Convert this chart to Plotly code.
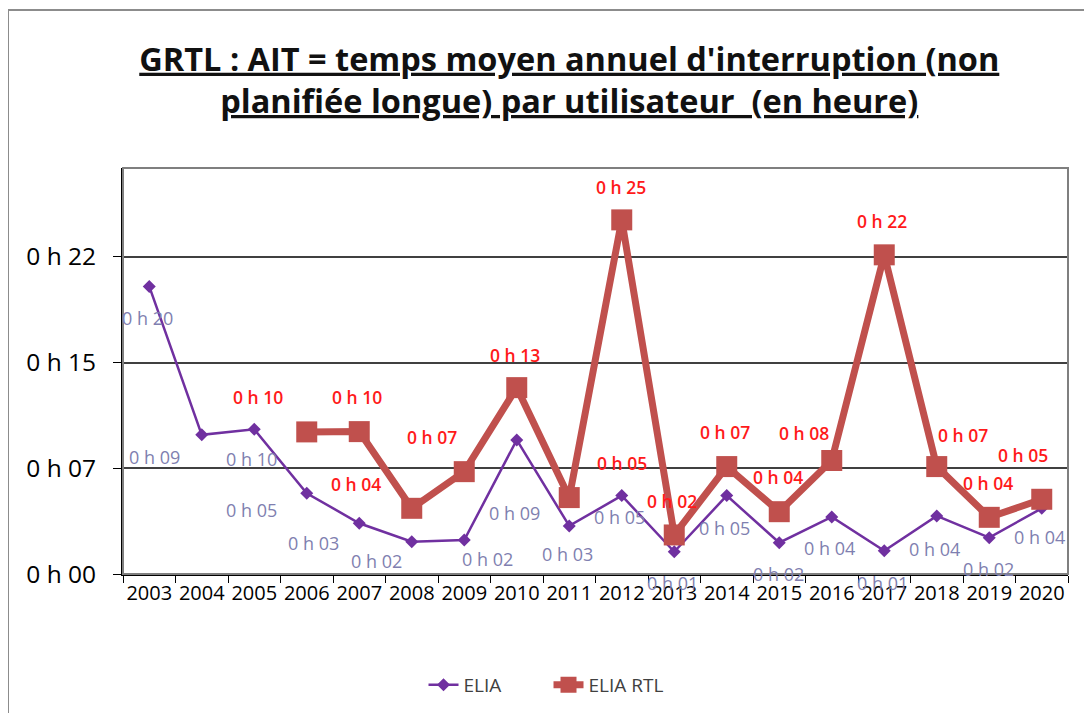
import plotly.graph_objects as go

# annees et temps (en minutes)
years = [str(y) for y in range(2003, 2021)]
elia = [20.4, 9.87, 10.27, 5.73, 3.6, 2.29, 2.41, 9.51, 3.41, 5.56,
        1.58, 5.56, 2.22, 4.05, 1.65, 4.12, 2.58, 4.66]
elia_rtl = [None, None, None, 10.08, 10.1, 4.66, 7.26, 13.22, 5.42, 25.12,
            2.77, 7.62, 4.42, 8.05, 22.64, 7.62, 4.02, 5.3]
ytick_vals = [0, 7.5, 15, 22.5]
ytick_text = ["0 h 00", "0 h 07", "0 h 15", "0 h 22"]

# decalage des etiquettes (px)
elia_off = [(-2, 32), (-47, 22), (-3, 30), (-55, 17), (-46, 20), (-35, 19),
            (23, 19), (-2, 73), (-2, 28), (-2, 21), (-2, 31), (-2, 32),
            (-1, 31), (-2, 31), (-2, 32), (-2, 33), (-1, 31), (-2, 29)]
rtl_off = [None, None, None, (-49, -35), (-2, -35), (-56, -24), (-32, -35),
           (-2, -33), (53, -35), (-1, -33), (-2, -34), (-2, -35), (-1, -35),
           (-28, -28), (-2, -34), (26, -32), (-1, -34), (-19, -44)]


def fmt(m):
    return "0 h %02d" % int(m)


FONT = "Open Sans"
fig = go.Figure()
fig.add_trace(go.Scatter(x=years, y=elia, name="ELIA", mode="lines+markers",
                         line=dict(color="#7030a0", width=2.5),
                         marker=dict(symbol="diamond", size=10, color="#7030a0")))
fig.add_trace(go.Scatter(x=years, y=elia_rtl, name="ELIA RTL", mode="lines+markers",
                         line=dict(color="#c0504d", width=7),
                         marker=dict(symbol="square", size=21, color="#c0504d")))

# etiquettes : x = index de categorie
for i in range(len(years)):
    dx, dy = elia_off[i]
    fig.add_annotation(x=i, y=elia[i], text=fmt(elia[i]), showarrow=False,
                       xshift=dx, yshift=-dy,
                       font=dict(family=FONT, size=18, color="#7f7fb0"))
    if elia_rtl[i] is not None:
        dx, dy = rtl_off[i]
        fig.add_annotation(x=i, y=elia_rtl[i], text=fmt(elia_rtl[i]), showarrow=False,
                           xshift=dx, yshift=-dy,
                           font=dict(family=FONT, size=17.5, color="#ff1a1a", weight=600))

# cadre exterieur + cadre du graphique
fig.add_shape(type="rect", xref="paper", yref="paper", x0=-0.1217, x1=1.05,
              y0=-0.4, y1=1.389, line=dict(color="#8c8c8c", width=2), layer="below")
fig.add_shape(type="rect", xref="paper", yref="paper", x0=0, x1=1, y0=0, y1=1,
              line=dict(color="#7f7f7f", width=2))

# la page html a une marge de 8 px -> marges compensees
fig.update_layout(
    width=1092, height=713,
    margin=dict(l=115, r=32, t=160, b=147),
    paper_bgcolor="white", plot_bgcolor="white",
    font=dict(family=FONT, color="black"),
    title=dict(text="<u>GRTL : AIT = temps moyen annuel d'interruption (non</u><br>"
                    "<u>planifiée longue) par utilisateur  (en heure)</u>",
               x=0.514, xanchor="center", y=0.912, yanchor="top",
               font=dict(family=FONT, size=32.5, color="#111111", weight="bold")),
    legend=dict(orientation="h", x=0.318, xanchor="left", y=-0.273, yanchor="middle",
                entrywidth=80, entrywidthmode="pixels",
                font=dict(family=FONT, size=19, color="#404040")),
    showlegend=True,
)
fig.update_xaxes(type="category", range=[-0.5, len(years) - 0.5],
                 tickson="boundaries", ticks="outside", ticklen=7, tickangle=0,
                 tickcolor="black", showline=True, linecolor="black", linewidth=2,
                 showgrid=False, tickfont=dict(size=20, color="black"))
fig.update_yaxes(range=[0, 28.8], tickvals=ytick_vals, ticktext=ytick_text,
                 ticks="outside", ticklen=8, tickcolor="black", ticklabelstandoff=12,
                 showline=True, linecolor="black", linewidth=2,
                 showgrid=True, gridcolor="#404040", gridwidth=1.5, zeroline=False,
                 tickfont=dict(size=24.5, color="black"))

fig.write_html("out.html")
